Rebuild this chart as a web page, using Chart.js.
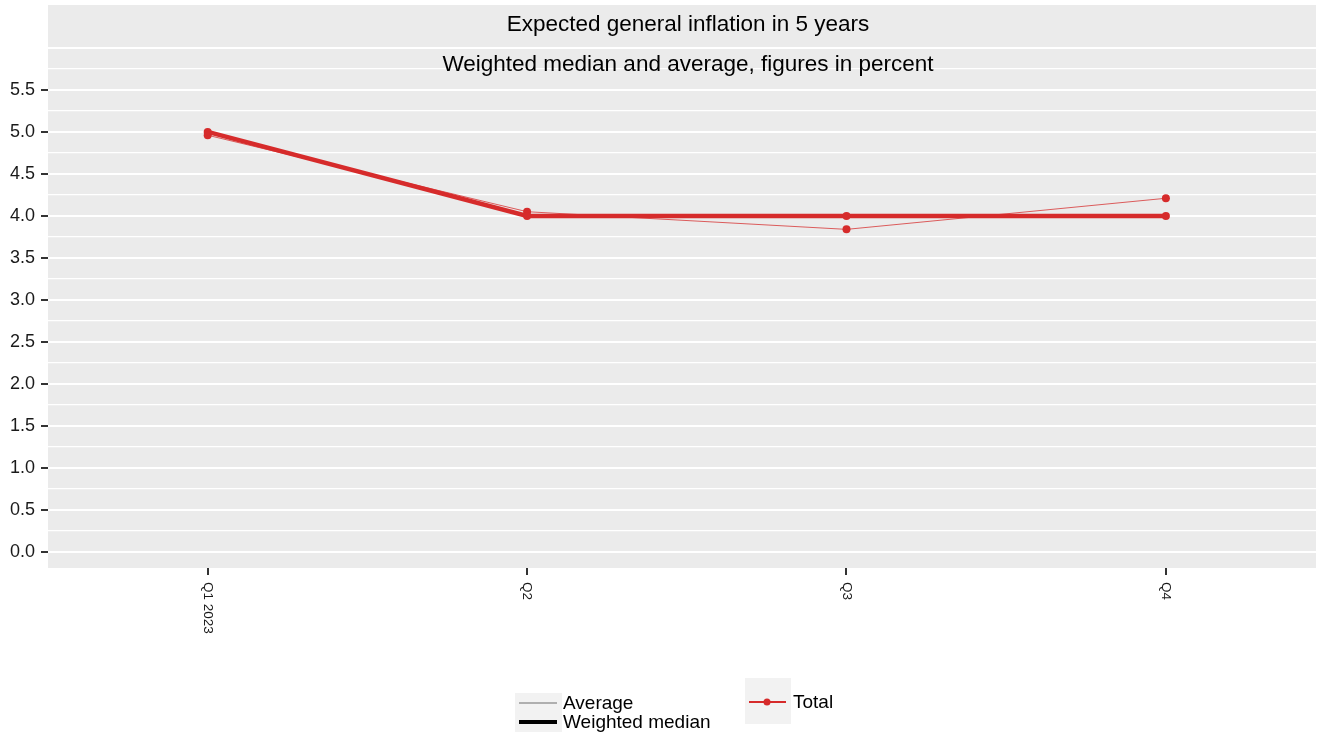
<!DOCTYPE html>
<html>
<head>
<meta charset="utf-8">
<script src="https://cdn.jsdelivr.net/npm/chart.js@4/dist/chart.umd.min.js"></script>
<style>
  html, body { margin: 0; padding: 0; background: #fff; }
</style>
</head>
<body>
<canvas id="chart" width="1333" height="735"></canvas>
<script>
const quarters = ['Q1 2023', 'Q2', 'Q3', 'Q4'];
const weightedMedian = [5.0, 4.0, 4.0, 4.0];
const average = [4.96, 4.05, 3.84, 4.21];
const yTickLabels = ['0.0', '0.5', '1.0', '1.5', '2.0', '2.5', '3.0', '3.5', '4.0', '4.5', '5.0', '5.5'];
const titleText = 'Expected general inflation in 5 years';
const subtitleText = 'Weighted median and average, figures in percent';

const RED = '#d62b2b';
const FONT = 'Arial, "Liberation Sans", sans-serif';

const yMajor = yTickLabels.map(Number);

function labelFor(v) {
    const i = yMajor.findIndex(m => Math.abs(m - v) < 1e-6);
    return i >= 0 ? yTickLabels[i] : '';
}

const panelPlugin = {
    id: 'panel',
    beforeDraw(chart) {
        const {ctx, chartArea: a} = chart;
        ctx.save();
        ctx.fillStyle = '#ebebeb';
        ctx.fillRect(a.left, a.top, a.right - a.left, a.bottom - a.top);
        ctx.restore();
    },
    afterDraw(chart) {
        const {ctx, chartArea: a} = chart;
        const cx = (a.left + a.right) / 2 + 6;
        ctx.save();
        ctx.fillStyle = '#000';
        ctx.font = '22.5px ' + FONT;
        ctx.textAlign = 'center';
        ctx.textBaseline = 'middle';
        ctx.fillText(titleText, cx, 25);
        ctx.fillText(subtitleText, cx, 65);

        // rotated x labels
        const xs = chart.scales.x;
        ctx.font = '13.5px ' + FONT;
        ctx.fillStyle = '#1a1a1a';
        ctx.textAlign = 'left';
        quarters.forEach((q, i) => {
            ctx.save();
            ctx.translate(xs.getPixelForValue(i), a.bottom + 14);
            ctx.rotate(Math.PI / 2);
            ctx.fillText(q, 0, 0);
            ctx.restore();
        });

        // legend
        ctx.fillStyle = '#f2f2f2';
        ctx.fillRect(515, 693, 47, 39);
        ctx.fillRect(745, 678, 46, 46);
        ctx.lineCap = 'butt';
        ctx.strokeStyle = '#999';
        ctx.lineWidth = 1.5;
        ctx.beginPath(); ctx.moveTo(519, 703); ctx.lineTo(557, 703); ctx.stroke();
        ctx.strokeStyle = '#000';
        ctx.lineWidth = 4;
        ctx.beginPath(); ctx.moveTo(519, 722); ctx.lineTo(557, 722); ctx.stroke();
        ctx.strokeStyle = RED;
        ctx.lineWidth = 2;
        ctx.beginPath(); ctx.moveTo(749, 702); ctx.lineTo(786, 702); ctx.stroke();
        ctx.fillStyle = RED;
        ctx.beginPath(); ctx.arc(767, 702, 3.5, 0, Math.PI * 2); ctx.fill();
        ctx.fillStyle = '#000';
        ctx.font = '19px ' + FONT;
        ctx.textBaseline = 'middle';
        ctx.fillText('Average', 563, 704);
        ctx.fillText('Weighted median', 563, 723);
        ctx.fillText('Total', 793, 703);
        ctx.restore();
    }
};

const toPoints = arr => arr.map((v, i) => ({x: i, y: v}));

new Chart(document.getElementById('chart'), {
    type: 'line',
    data: {
        datasets: [
            {
                label: 'Weighted median',
                data: toPoints(weightedMedian),
                borderColor: RED,
                backgroundColor: RED,
                borderWidth: 4.5,
                pointRadius: 4,
                pointBorderWidth: 0,
                tension: 0,
            },
            {
                label: 'Average',
                data: toPoints(average),
                borderColor: 'rgba(214,43,43,0.75)',
                backgroundColor: RED,
                borderWidth: 1,
                pointRadius: 4,
                pointBorderWidth: 0,
                tension: 0,
            },
        ]
    },
    options: {
        responsive: false,
        animation: false,
        layout: {padding: {top: 5, right: 17, left: 0, bottom: 0}},
        plugins: {
            legend: {display: false},
            tooltip: {enabled: false},
        },
        scales: {
            x: {
                type: 'linear',
                min: -0.5,
                max: 3.47,
                afterBuildTicks: s => { s.ticks = quarters.map((q, i) => ({value: i})); },
                afterFit: s => { s.height = 167; s.paddingLeft = 0; s.paddingRight = 0; },
                ticks: {display: false},
                border: {display: false},
                grid: {drawOnChartArea: false, drawTicks: true, tickLength: 7, color: '#333', lineWidth: 2},
            },
            y: {
                type: 'linear',
                min: -0.19,
                max: 6.51,
                afterBuildTicks: s => {
                    const t = [];
                    for (let k = 0; k <= 24; k++) t.push({value: k * 0.25});
                    s.ticks = t;
                },
                afterFit: s => { s.width = 48; s.paddingTop = 0; s.paddingBottom = 0; },
                border: {display: false},
                ticks: {
                    autoSkip: false,
                    padding: 6,
                    color: '#1a1a1a',
                    font: {size: 18, family: FONT},
                    callback: v => labelFor(v),
                },
                grid: {
                    color: '#ffffff',
                    lineWidth: c => (labelFor(c.tick.value) !== '' || Math.abs(c.tick.value - 6) < 1e-6) ? 2 : 1.2,
                    drawTicks: true,
                    tickLength: 7,
                    tickWidth: 2,
                    tickColor: c => labelFor(c.tick.value) !== '' ? '#333' : 'rgba(0,0,0,0)',
                },
            },
        },
    },
    plugins: [panelPlugin],
});
</script>
</body>
</html>
